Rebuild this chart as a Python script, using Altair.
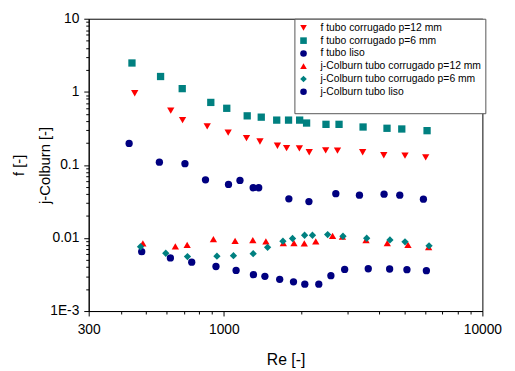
import altair as alt
import pandas as pd

series_names = [
    "f tubo corrugado p=12 mm",
    "f tubo corrugado p=6 mm",
    "f tubo liso",
    "j-Colburn tubo corrugado p=12 mm",
    "j-Colburn tubo corrugado p=6 mm",
    "j-Colburn tubo liso",
]
series_colors = ["#FF0000", "#008080", "#000080", "#FF0000", "#008080", "#000080"]
series_shapes = ["triangle-down", "square", "circle", "triangle-up", "diamond", "circle"]

re_f12 = [452, 623, 692, 862, 1039, 1223, 1379, 1611, 1748, 1959, 2139, 2476, 2751, 3442, 4154, 5019, 6035]
f12 = [0.956, 0.554, 0.410, 0.337, 0.277, 0.2325, 0.209, 0.183, 0.170, 0.168, 0.149, 0.158, 0.157, 0.149, 0.1355, 0.134, 0.127]

re_f6 = [441, 569, 690, 890, 1026, 1231, 1395, 1601, 1779, 1964, 2089, 2483, 2789, 3455, 4276, 4877, 6109]
f6 = [2.48, 1.62, 1.106, 0.716, 0.595, 0.469, 0.450, 0.410, 0.410, 0.410, 0.374, 0.359, 0.359, 0.330, 0.317, 0.310, 0.294]

re_fl = [430, 563, 707, 849, 1042, 1154, 1298, 1364, 1784, 2133, 2710, 3345, 4165, 4791, 5914]
fl = [0.197, 0.109, 0.104, 0.0624, 0.0541, 0.0613, 0.0487, 0.0487, 0.0343, 0.0315, 0.0404, 0.0385, 0.0397, 0.0385, 0.0340]

re_j12 = [486, 649, 721, 911, 1105, 1294, 1454, 1698, 1867, 2047, 2267, 2633, 2874, 3547, 4287, 5154, 6195]
j12 = [0.00842, 0.00767, 0.00806, 0.00962, 0.00913, 0.00933, 0.00896, 0.00850, 0.00850, 0.00842, 0.00896, 0.01066, 0.01046, 0.00933, 0.00850, 0.00806, 0.00751]

re_j6 = [476, 596, 723, 940, 1089, 1298, 1476, 1692, 1843, 2052, 2201, 2520, 2889, 3568, 4389, 5019, 6217]
j6 = [0.00758, 0.00618, 0.00556, 0.00563, 0.00573, 0.00610, 0.00744, 0.00904, 0.00983, 0.01089, 0.01089, 0.01113, 0.01056, 0.00992, 0.00941, 0.00885, 0.00782]

re_jl = [481, 621, 751, 932, 1115, 1301, 1441, 1644, 1859, 2056, 2329, 2594, 2932, 3618, 4377, 5106, 6072]
jl = [0.00649, 0.00534, 0.00467, 0.00407, 0.00360, 0.00315, 0.00299, 0.00272, 0.00251, 0.00233, 0.00233, 0.00305, 0.00371, 0.00379, 0.00376, 0.00368, 0.00357]

x_major = [300, 1000, 10000]
x_ticks = [300, 400, 500, 600, 700, 800, 900, 1000, 2000, 3000, 4000, 5000, 6000, 7000, 8000, 9000, 10000]
y_major = [0.001, 0.01, 0.1, 1, 10]
y_ticks = [round(k * d, 6) for d in [0.001, 0.01, 0.1, 1] for k in range(1, 10)] + [10]

# drawing order: liso j under the corrugated j markers
draw_order = [0, 1, 2, 5, 3, 4]
xs_all = [re_f12, re_f6, re_fl, re_j12, re_j6, re_jl]
ys_all = [f12, f6, fl, j12, j6, jl]
rows = []
for i in draw_order:
    for xv, yv in zip(xs_all[i], ys_all[i]):
        rows.append({"series": series_names[i], "Re": xv, "val": yv})
df = pd.DataFrame(rows)

xm = "indexof([300,1000,10000], datum.value) >= 0"
ym = "indexof([0.001,0.01,0.1,1,10], datum.value) >= 0"

x_axis = alt.Axis(
    values=x_ticks, format="d",
    labelExpr=f"{xm} ? datum.label : ''",
    tickSize={"condition": {"test": xm, "value": 5}, "value": 3},
    grid=False, labelOverlap=False, labelFlush=False,
    title="Re [-]", titleFontSize=16, titleFontWeight="normal",
    titleY=41, titleBaseline="top",
    labelFontSize=14, labelPadding=7,
)
y_axis = alt.Axis(
    values=y_ticks,
    labelExpr=f"abs(datum.value - 0.001) < 1e-9 ? '1E-3' : ({ym} ? format(datum.value, '~g') : '')",
    tickSize={"condition": {"test": ym, "value": 5}, "value": 3},
    grid=False, labelOverlap=False, labelFlush=False,
    title=["f [-]", "j-Colburn [-]"], titleFontSize=15, titleFontWeight="normal",
    titleLineHeight=26, titleX=-63,
    labelFontSize=14, labelPadding=5,
)

legend = alt.Legend(
    orient="none", legendX=209, legendY=0,
    title=" ", titleOrient="bottom", titleFontSize=9, titlePadding=3,
    fillColor="white", strokeColor="#555555", padding=4,
    labelOffset=12, labelFontSize=10.5, labelLimit=300, rowPadding=2,
    symbolSize=45,
)

chart = alt.Chart(df).mark_point(filled=True, opacity=1, size=55).encode(
    x=alt.X("Re:Q", scale=alt.Scale(type="log", domain=[300, 10000], nice=False), axis=x_axis),
    y=alt.Y("val:Q", scale=alt.Scale(type="log", domain=[0.001, 10], nice=False), axis=y_axis),
    color=alt.Color("series:N", scale=alt.Scale(domain=series_names, range=series_colors), legend=legend),
    shape=alt.Shape("series:N", scale=alt.Scale(domain=series_names, range=series_shapes), legend=legend),
).properties(
    width=400, height=297,
    autosize=alt.AutoSizeParams(type="none"),
    padding={"left": 82, "top": 8, "right": 25, "bottom": 58},
).configure(
    font="Liberation Sans",
).configure_view(
    stroke="black", strokeWidth=1,
).configure_axis(
    domainColor="black", tickColor="black", labelColor="black", titleColor="black",
)

chart.save("out.html", embed_options={"renderer": "svg", "actions": False})
